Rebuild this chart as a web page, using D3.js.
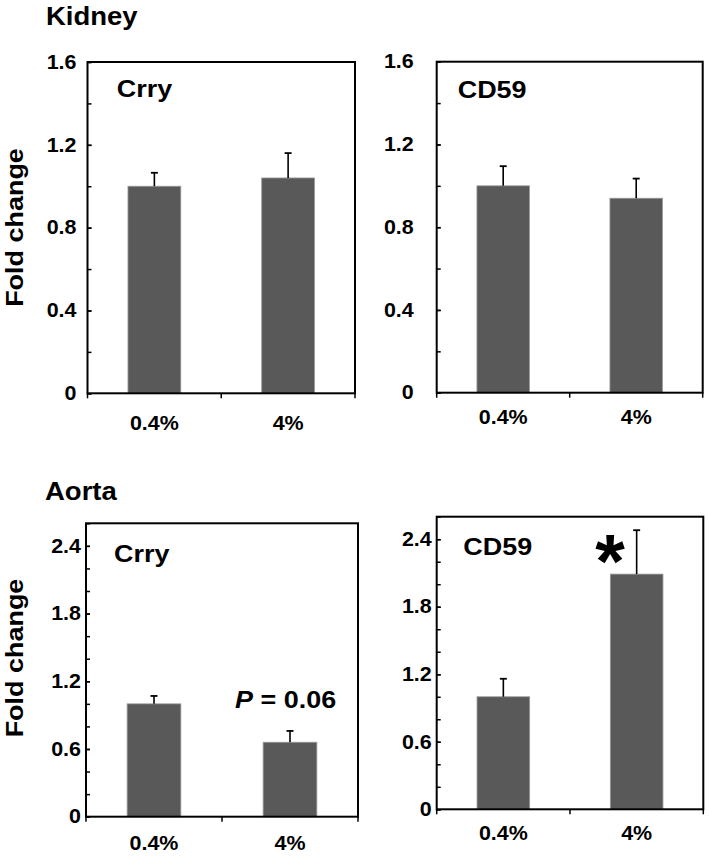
<!DOCTYPE html>
<html>
<head>
<meta charset="utf-8">
<script src="https://cdn.jsdelivr.net/npm/d3@7"></script>
<style>
body { margin: 0; background: #fff; }
text { font-family: "Liberation Sans", Arial, sans-serif; font-weight: bold; fill: #000; }
</style>
</head>
<body>
<div id="chart"></div>
<script>
// values
const categories = ['0.4%', '4%'];
const kidneyTicks = [0, 0.4, 0.8, 1.2, 1.6];
const aortaTicks = [0, 0.6, 1.2, 1.8, 2.4];
const kidneyCrry = [1.0, 1.04];
const kidneyCrryErr = [0.065, 0.12];
const kidneyCD59 = [1.0, 0.94];
const kidneyCD59Err = [0.095, 0.095];
const aortaCrry = [1.0, 0.66];
const aortaCrryErr = [0.07, 0.10];
const aortaCD59 = [1.0, 2.09];
const aortaCD59Err = [0.16, 0.39];

const width = 709, height = 857;
const sx = 1.1; // the source figure is a little stretched sideways

const svg = d3.select('#chart').append('svg')
    .attr('width', width)
    .attr('height', height);

function stretch(sel, rot) {
    sel.each(function() {
        const t = d3.select(this);
        const x = +t.attr('x') || 0, y = +t.attr('y') || 0;
        t.attr('transform', 'translate(' + x + ',' + y + ')' + (rot ? ' rotate(' + rot + ')' : '') + ' scale(' + sx + ',1)')
            .attr('x', 0).attr('y', 0);
    });
}

function panel(p) {
    const g = svg.append('g');
    const x = d3.scaleBand().domain(categories).range([p.x0, p.x1]);
    const y = d3.scaleLinear().domain([0, p.max]).range([p.y0, p.y1]);
    const bw = x.bandwidth() * 0.395;
    const data = categories.map((c, i) => ({cat: c, v: p.means[i], e: p.errs[i]}));

    // minor ticks every 0.2
    const minor = d3.range(0, p.max + 1e-6, 0.2);
    g.append('g')
        .attr('transform', 'translate(' + p.x0 + ',0)')
        .call(d3.axisLeft(y).tickValues(minor).tickSizeInner(-4).tickSizeOuter(0).tickFormat(''))
        .call(a => a.select('.domain').remove())
        .selectAll('line').attr('stroke', '#000').attr('stroke-width', 1.5);

    const ya = g.append('g')
        .attr('transform', 'translate(' + p.x0 + ',0)')
        .call(d3.axisLeft(y).tickValues(p.ticks).tickSizeInner(-4).tickSizeOuter(0)
            .tickPadding(p.yPad).tickFormat(d => d === 0 ? '0' : d3.format('.1f')(d)));
    ya.select('.domain').remove();
    ya.selectAll('line').attr('stroke', '#000').attr('stroke-width', 1.5);
    ya.selectAll('text')
        .attr('font-size', 19.5)
        .attr('font-family', '"Liberation Sans", Arial, sans-serif')
        .attr('font-weight', 'bold')
        .attr('fill', '#000')
        .call(stretch);

    const xa = g.append('g')
        .attr('transform', 'translate(0,' + p.y0 + ')')
        .call(d3.axisBottom(x).tickSize(0).tickPadding(p.xPad));
    xa.select('.domain').remove();
    xa.selectAll('text')
        .attr('font-size', 19.5)
        .attr('font-family', '"Liberation Sans", Arial, sans-serif')
        .attr('font-weight', 'bold')
        .attr('fill', '#000')
        .call(stretch);

    // x tick marks sit on the band edges
    const edges = categories.map(c => x(c)).concat([x.range()[1]]);
    g.selectAll('.xtick')
        .data(edges)
        .join('line')
        .attr('x1', d => d).attr('x2', d => d)
        .attr('y1', p.y0).attr('y2', p.y0 + 5)
        .attr('stroke', '#000').attr('stroke-width', 1.5);

    g.selectAll('.bar')
        .data(data)
        .join('rect')
        .attr('x', d => x(d.cat) + (x.bandwidth() - bw) / 2)
        .attr('width', bw)
        .attr('y', d => y(d.v))
        .attr('height', d => p.y0 - y(d.v))
        .attr('fill', '#595959')
        .attr('stroke', '#9a9a9a')
        .attr('stroke-width', 0.8);

    const cx = d => x(d.cat) + x.bandwidth() / 2;
    g.selectAll('.err')
        .data(data)
        .join('line')
        .attr('x1', cx).attr('x2', cx)
        .attr('y1', d => y(d.v)).attr('y2', d => y(d.v + d.e))
        .attr('stroke', '#000').attr('stroke-width', 1.6);
    g.selectAll('.cap')
        .data(data)
        .join('line')
        .attr('x1', d => cx(d) - 3.5).attr('x2', d => cx(d) + 3.5)
        .attr('y1', d => y(d.v + d.e)).attr('y2', d => y(d.v + d.e))
        .attr('stroke', '#000').attr('stroke-width', 1.8);

    // frame
    g.append('rect')
        .attr('x', p.x0).attr('y', p.y1)
        .attr('width', p.x1 - p.x0).attr('height', p.y0 - p.y1)
        .attr('fill', 'none').attr('stroke', '#000').attr('stroke-width', 2);

    g.append('text')
        .attr('x', p.lx).attr('y', p.ly)
        .attr('font-size', 24.5)
        .text(p.name)
        .call(stretch);

    return {g: g, x: x, y: y, data: data};
}

const tl = panel({name: 'Crry', means: kidneyCrry, errs: kidneyCrryErr, ticks: kidneyTicks, max: 1.6,
    x0: 87.5, x1: 355, y0: 393.3, y1: 62, yPad: 11, xPad: 23, lx: 116.7, ly: 96.7});
const tr = panel({name: 'CD59', means: kidneyCD59, errs: kidneyCD59Err, ticks: kidneyTicks, max: 1.6,
    x0: 436.7, x1: 702.7, y0: 392.7, y1: 61.7, yPad: 23, xPad: 17, lx: 457.7, ly: 98.3});
const bl = panel({name: 'Crry', means: aortaCrry, errs: aortaCrryErr, ticks: aortaTicks, max: 2.6,
    x0: 86, x1: 358, y0: 816.7, y1: 523.3, yPad: 5, xPad: 19.5, lx: 114, ly: 561.7});
const br = panel({name: 'CD59', means: aortaCD59, errs: aortaCD59Err, ticks: aortaTicks, max: 2.6,
    x0: 436.7, x1: 703.3, y0: 809.3, y1: 516.7, yPad: 5, xPad: 17, lx: 463.3, ly: 555});

// annotations
const pd = bl.data[1];
const pt = bl.g.append('text')
    .attr('x', bl.x(pd.cat) + 13)
    .attr('y', bl.y(pd.v + pd.e) - 23)
    .attr('font-size', 24.5);
pt.append('tspan').attr('font-style', 'italic').text('P');
pt.append('tspan').text(' = 0.06');
pt.call(stretch);

const sd = br.data[1];
br.g.append('text')
    .attr('x', br.x(sd.cat) + br.x.bandwidth() * 0.3)
    .attr('y', br.y(sd.v) + 13)
    .attr('text-anchor', 'middle')
    .attr('font-size', 76)
    .text('*');

// section titles and y labels
svg.append('text').attr('x', 46).attr('y', 25).attr('font-size', 25).text('Kidney').call(stretch);
svg.append('text').attr('x', 45).attr('y', 500).attr('font-size', 25).text('Aorta').call(stretch);

[[23, 227.5], [23, 658]].forEach(pos => {
    svg.append('text')
        .attr('x', pos[0]).attr('y', pos[1])
        .attr('text-anchor', 'middle')
        .attr('font-size', 24.5)
        .text('Fold change')
        .call(stretch, -90);
});
</script>
</body>
</html>
